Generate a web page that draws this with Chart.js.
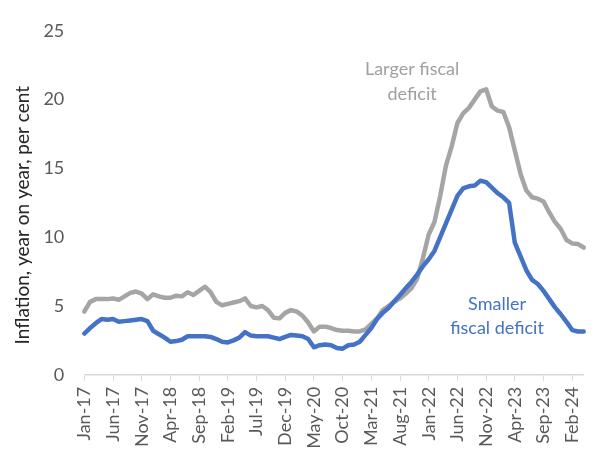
<!DOCTYPE html>
<html lang="en">
<head>
<meta charset="UTF-8">
<title>Inflation under fiscal deficit scenarios</title>
<script src="https://cdn.jsdelivr.net/npm/chart.js"></script>
<style>
  body { margin: 0; background: #fff; }
  #wrap { width: 600px; height: 452px; }
</style>
</head>
<body>
<div id="wrap"><canvas id="inflationChart" width="600" height="452"></canvas></div>
<script>
    // months, Jan-17 .. Apr-24
    const months = [
        'Jan-17','Feb-17','Mar-17','Apr-17','May-17','Jun-17','Jul-17','Aug-17','Sep-17','Oct-17','Nov-17','Dec-17',
        'Jan-18','Feb-18','Mar-18','Apr-18','May-18','Jun-18','Jul-18','Aug-18','Sep-18','Oct-18','Nov-18','Dec-18',
        'Jan-19','Feb-19','Mar-19','Apr-19','May-19','Jun-19','Jul-19','Aug-19','Sep-19','Oct-19','Nov-19','Dec-19',
        'Jan-20','Feb-20','Mar-20','Apr-20','May-20','Jun-20','Jul-20','Aug-20','Sep-20','Oct-20','Nov-20','Dec-20',
        'Jan-21','Feb-21','Mar-21','Apr-21','May-21','Jun-21','Jul-21','Aug-21','Sep-21','Oct-21','Nov-21','Dec-21',
        'Jan-22','Feb-22','Mar-22','Apr-22','May-22','Jun-22','Jul-22','Aug-22','Sep-22','Oct-22','Nov-22','Dec-22',
        'Jan-23','Feb-23','Mar-23','Apr-23','May-23','Jun-23','Jul-23','Aug-23','Sep-23','Oct-23','Nov-23','Dec-23',
        'Jan-24','Feb-24','Mar-24','Apr-24'
    ];

    const largerDeficit = [
        4.6, 5.3, 5.5, 5.5, 5.5, 5.55, 5.45, 5.7, 5.95, 6.05, 5.9, 5.5,
        5.85, 5.7, 5.6, 5.6, 5.75, 5.7, 6.0, 5.8, 6.1, 6.4, 6.0, 5.3,
        5.05, 5.15, 5.25, 5.35, 5.55, 5.0, 4.9, 5.0, 4.7, 4.15, 4.1, 4.5,
        4.7, 4.6, 4.3, 3.8, 3.15, 3.5, 3.5, 3.4, 3.25, 3.2, 3.2, 3.15,
        3.15, 3.3, 3.7, 4.1, 4.7, 5.0, 5.3, 5.55, 5.9, 6.3, 7.0, 8.5,
        10.2, 11.1, 13.0, 15.2, 16.6, 18.3, 19.0, 19.4, 20.0, 20.6, 20.75, 19.5,
        19.2, 19.1, 18.0, 16.3, 14.6, 13.4, 12.9, 12.8, 12.6, 11.8, 11.1, 10.6,
        9.8, 9.55, 9.5, 9.25
    ];

    const smallerDeficit = [
        3.0, 3.4, 3.75, 4.05, 4.0, 4.05, 3.85, 3.9, 3.95, 4.0, 4.05, 3.9,
        3.2, 2.95, 2.7, 2.4, 2.45, 2.55, 2.8, 2.8, 2.8, 2.8, 2.75, 2.6,
        2.4, 2.35, 2.5, 2.7, 3.1, 2.85, 2.8, 2.8, 2.8, 2.7, 2.6, 2.75,
        2.9, 2.85, 2.8, 2.6, 2.0, 2.15, 2.2, 2.15, 1.95, 1.9, 2.15, 2.2,
        2.4, 2.9, 3.4, 4.05, 4.5, 4.85, 5.35, 5.8, 6.3, 6.75, 7.3, 7.9,
        8.4, 9.0, 10.0, 11.0, 12.0, 13.0, 13.55, 13.7, 13.75, 14.1, 14.0, 13.6,
        13.2, 12.9, 12.5, 9.6, 8.6, 7.6, 6.9, 6.6, 6.1, 5.5, 4.9, 4.4,
        3.85, 3.25, 3.15, 3.15
    ];

    const yTicks = [0, 5, 10, 15, 20, 25];
    const yTitle = 'Inflation, year on year, per cent';

    const blue = '#4472C4';
    const grey = '#A5A5A5';
    const fontFamily = 'Lato, "Open Sans", sans-serif';

    // in-chart labels, anchored in data units (month index, per cent)
    const notes = [
        { lines: ['Larger fiscal', 'deficit'], x: 57.1, y: 22.2, color: '#a0a0a0' },
        { lines: ['Smaller', 'fiscal deficit'], x: 71.9, y: 5.15, color: blue }
    ];

    let notePlugin = {
        id: 'notePlugin',
        afterDatasetsDraw: function(chart) {
            let ctx = chart.ctx;
            ctx.save();
            ctx.font = '18px ' + fontFamily;
            ctx.textAlign = 'center';
            ctx.textBaseline = 'middle';
            notes.forEach(n => {
                let px = chart.scales.x.getPixelForValue(n.x);
                let py = chart.scales.y.getPixelForValue(n.y);
                ctx.fillStyle = n.color;
                n.lines.forEach((line, i) => {
                    ctx.fillText(line, px, py + i * 24.5);
                });
            });

            // axis title, sits a bit below the middle of the y axis like the original
            let mid = chart.scales.y.getPixelForValue(11.6);
            ctx.translate(23, mid);
            ctx.rotate(-Math.PI / 2);
            ctx.font = '19px ' + fontFamily;
            ctx.fillStyle = '#262626';
            ctx.fillText(yTitle, 0, 0);
            ctx.restore();
        }
    };

    let ctx = document.getElementById('inflationChart').getContext('2d');

    let chart = new Chart(ctx, {
        type: 'line',
        data: {
            labels: months,
            datasets: [
                {
                    label: 'Smaller fiscal deficit',
                    data: smallerDeficit,
                    borderColor: blue,
                    borderWidth: 4.5
                },
                {
                    label: 'Larger fiscal deficit',
                    data: largerDeficit,
                    borderColor: grey,
                    borderWidth: 4.5
                }
            ]
        },
        options: {
            responsive: false,
            animation: false,
            layout: { padding: { left: 0, right: 7.5, top: 17.5, bottom: 0 } },
            elements: {
                point: { radius: 0 },
                line: { tension: 0, borderJoinStyle: 'round', borderCapStyle: 'round', fill: false }
            },
            plugins: {
                legend: { display: false },
                tooltip: { enabled: false }
            },
            scales: {
                x: {
                    offset: false,
                    afterBuildTicks: function(axis) {
                        axis.ticks = axis.ticks.filter(t => t.value % 5 === 0);
                    },
                    afterFit: function(axis) { axis.height = 77.2; },
                    grid: { drawOnChartArea: false, color: '#D9D9D9', lineWidth: 1, tickLength: 6 },
                    border: { display: true, color: '#D9D9D9', width: 1.5 },
                    ticks: {
                        autoSkip: false,
                        maxRotation: 90,
                        minRotation: 90,
                        padding: 6,
                        color: '#595959',
                        font: { family: fontFamily, size: 18 }
                    }
                },
                y: {
                    min: 0,
                    max: 25,
                    afterBuildTicks: function(axis) {
                        axis.ticks = yTicks.map(v => ({ value: v }));
                    },
                    afterFit: function(axis) { axis.width = 84.3; },
                    grid: { display: false, drawTicks: false },
                    border: { display: false },
                    ticks: {
                        padding: 20,
                        color: '#595959',
                        font: { family: fontFamily, size: 18 }
                    }
                }
            }
        },
        plugins: [notePlugin]
    });
</script>
</body>
</html>
